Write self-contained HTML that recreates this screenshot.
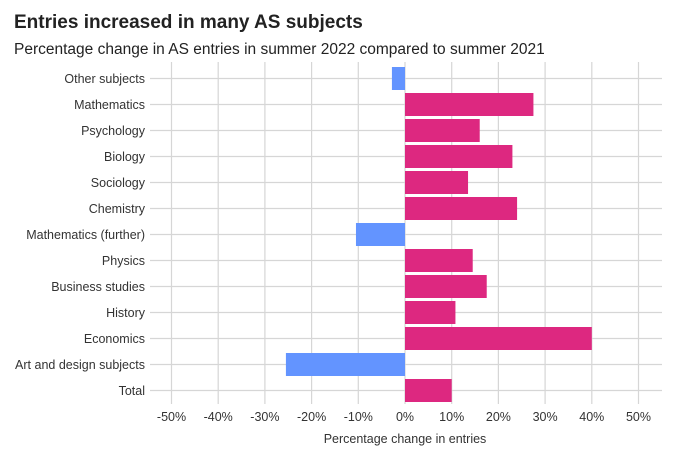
<!DOCTYPE html>
<html><head><style>body{margin:0;background:#fff;font-family:"Liberation Sans",sans-serif}</style></head>
<body>
<svg width="677" height="460" xmlns="http://www.w3.org/2000/svg" font-family="Liberation Sans, sans-serif">
<rect width="677" height="460" fill="#fff"/>
<text x="14" y="28" font-size="19" font-weight="bold" fill="#222">Entries increased in many AS subjects</text>
<text x="14" y="54" font-size="15.5" fill="#222">Percentage change in AS entries in summer 2022 compared to summer 2021</text>
<g stroke="#d6d6d6" stroke-width="1.2">
<line x1="171.5" y1="62" x2="171.5" y2="404"/><line x1="218.2" y1="62" x2="218.2" y2="404"/><line x1="264.9" y1="62" x2="264.9" y2="404"/><line x1="311.6" y1="62" x2="311.6" y2="404"/><line x1="358.3" y1="62" x2="358.3" y2="404"/><line x1="405" y1="62" x2="405" y2="404"/><line x1="451.7" y1="62" x2="451.7" y2="404"/><line x1="498.4" y1="62" x2="498.4" y2="404"/><line x1="545.1" y1="62" x2="545.1" y2="404"/><line x1="591.8" y1="62" x2="591.8" y2="404"/><line x1="638.5" y1="62" x2="638.5" y2="404"/>
</g>
<g stroke="#d6d6d6" stroke-width="1.2" id="h"></g>
<g font-size="12.5" fill="#333" text-anchor="end" id="lab"></g>
<g id="bars"></g>
<g font-size="12.5" fill="#333" text-anchor="middle">
<text x="171.5" y="421">-50%</text><text x="218.2" y="421">-40%</text><text x="264.9" y="421">-30%</text><text x="311.6" y="421">-20%</text><text x="358.3" y="421">-10%</text><text x="405" y="421">0%</text><text x="451.7" y="421">10%</text><text x="498.4" y="421">20%</text><text x="545.1" y="421">30%</text><text x="591.8" y="421">40%</text><text x="638.5" y="421">50%</text>
<text x="405" y="443">Percentage change in entries</text>
</g>
<script>
var d=[["Other subjects",-2.8],["Mathematics",27.5],["Psychology",16],["Biology",23],["Sociology",13.5],["Chemistry",24],["Mathematics (further)",-10.5],["Physics",14.5],["Business studies",17.5],["History",10.8],["Economics",40],["Art and design subjects",-25.5],["Total",10]];
var ns="http://www.w3.org/2000/svg",h=document.getElementById("h"),l=document.getElementById("lab"),b=document.getElementById("bars");
d.forEach(function(r,i){var y=78.5+i*26;
var ln=document.createElementNS(ns,"line");ln.setAttribute("x1",150);ln.setAttribute("x2",662);ln.setAttribute("y1",y);ln.setAttribute("y2",y);h.appendChild(ln);
var t=document.createElementNS(ns,"text");t.setAttribute("x",145);t.setAttribute("y",y+4.5);t.textContent=r[0];l.appendChild(t);
var w=r[1]*4.67,x=w<0?405+w:405;var rc=document.createElementNS(ns,"rect");rc.setAttribute("x",x);rc.setAttribute("y",y-11.5);rc.setAttribute("width",Math.abs(w));rc.setAttribute("height",23);rc.setAttribute("fill",r[1]<0?"#6394ff":"#dd2880");b.appendChild(rc);});
</script>
</svg>
</body></html>
